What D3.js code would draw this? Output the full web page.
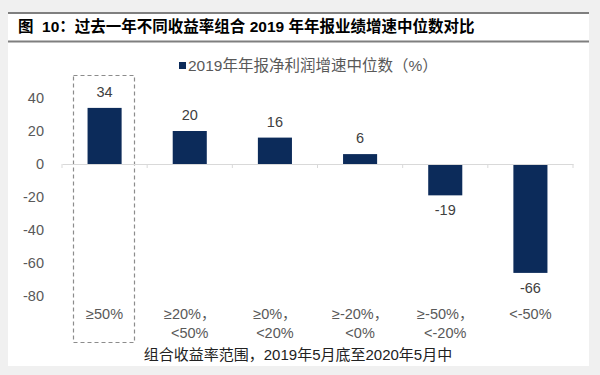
<!DOCTYPE html>
<html>
<head>
<meta charset="utf-8">
<script src="https://cdn.jsdelivr.net/npm/d3@7"></script>
<style>
  body { margin: 0; background: #f0f0f0; }
  svg { display: block; }
  text { font-family: "Liberation Sans", Arial, "Noto Sans CJK SC", sans-serif; }
</style>
</head>
<body>
<div id="chart"></div>
<script>
// chart data
var categories = ["≥50%", "≥20%，<50%", "≥0%，<20%", "≥-20%，<0%", "≥-50%，<-20%", "<-50%"];
var labelLines = [["≥50%"], ["≥20%，", "<50%"], ["≥0%，", "<20%"], ["≥-20%，", "<0%"], ["≥-50%，", "<-20%"], ["<-50%"]];
var growth = [34, 20, 16, 6, -19, -66];
var yTicks = [40, 20, 0, -20, -40, -60, -80];

var titleText = "图  10：过去一年不同收益率组合 2019 年年报业绩增速中位数对比";
var seriesName = "2019年年报净利润增速中位数（%）";
var xTitle = "组合收益率范围，2019年5月底至2020年5月中";

var svgWidth = 600;
var svgHeight = 375;

var svg = d3.select("#chart")
  .append("svg")
  .attr("width", svgWidth)
  .attr("height", svgHeight);

// white panel
svg.append("rect")
  .attr("x", 8)
  .attr("y", 12)
  .attr("width", 581)
  .attr("height", 354)
  .attr("fill", "#ffffff");

// title bar lines
svg.append("line")
  .attr("x1", 8).attr("x2", 589)
  .attr("y1", 13).attr("y2", 13)
  .attr("stroke", "#7f7f7f")
  .attr("stroke-width", 2);

svg.append("line")
  .attr("x1", 8).attr("x2", 589)
  .attr("y1", 41.5).attr("y2", 41.5)
  .attr("stroke", "#7f7f7f")
  .attr("stroke-width", 2);

svg.append("text")
  .attr("x", 18)
  .attr("y", 32)
  .attr("font-size", "15.5px")
  .attr("font-weight", "bold")
  .attr("fill", "#000")
  .style("white-space", "pre")
  .text(titleText);

// scales
var xBandScale = d3.scaleBand()
  .domain(categories)
  .range([62, 573])
  .paddingInner(0.6)
  .paddingOuter(0.3);

var yLinearScale = d3.scaleLinear()
  .domain([-80, 40])
  .range([296, 98]);

var y0 = yLinearScale(0);
var step = xBandScale.step();

// highlight box around first category
svg.append("rect")
  .attr("x", Math.round(xBandScale.range()[0] + step * 0.135) + 0.5)
  .attr("y", 75.5)
  .attr("width", Math.round(step * 0.72))
  .attr("height", 267)
  .attr("fill", "none")
  .attr("stroke", "#8c8c8c")
  .attr("stroke-width", 1.2)
  .attr("stroke-dasharray", "4,3");

// legend
svg.append("rect")
  .attr("x", 179)
  .attr("y", 62)
  .attr("width", 7)
  .attr("height", 7)
  .attr("fill", "#0c2b5a");

svg.append("text")
  .attr("x", 188)
  .attr("y", 71)
  .attr("font-size", "15.5px")
  .attr("fill", "#595959")
  .text(seriesName);

// y tick labels (no axis line)
svg.append("g")
  .selectAll("text")
  .data(yTicks)
  .enter()
  .append("text")
  .attr("x", 44)
  .attr("y", d => yLinearScale(d))
  .attr("dy", "0.35em")
  .attr("text-anchor", "end")
  .attr("font-size", "14.5px")
  .attr("fill", "#595959")
  .text(d => d);

// bars
svg.append("g")
  .selectAll("rect")
  .data(growth)
  .enter()
  .append("rect")
  .attr("x", (d, i) => xBandScale(categories[i]))
  .attr("y", d => yLinearScale(Math.max(0, d)))
  .attr("width", xBandScale.bandwidth())
  .attr("height", d => Math.abs(yLinearScale(d) - y0))
  .attr("fill", "#0c2b5a");

// zero axis line with category tick marks
var bottomAxis = d3.axisBottom(xBandScale)
  .tickSize(0)
  .tickFormat("");

var xAxis = svg.append("g")
  .attr("transform", `translate(0, ${y0})`)
  .call(bottomAxis);
xAxis.select(".domain").attr("stroke", "#d9d9d9");

svg.append("g")
  .selectAll("line")
  .data(d3.range(categories.length + 1))
  .enter()
  .append("line")
  .attr("x1", i => xBandScale.range()[0] + i * step)
  .attr("x2", i => xBandScale.range()[0] + i * step)
  .attr("y1", y0)
  .attr("y2", y0 + 4)
  .attr("stroke", "#d9d9d9");

// value labels
svg.append("g")
  .selectAll("text")
  .data(growth)
  .enter()
  .append("text")
  .attr("x", (d, i) => xBandScale(categories[i]) + xBandScale.bandwidth() / 2)
  .attr("y", d => d >= 0 ? yLinearScale(d) - 11 : yLinearScale(d) + 20)
  .attr("text-anchor", "middle")
  .attr("font-size", "14.5px")
  .attr("fill", "#404040")
  .text(d => d);

// category labels
var catGroup = svg.append("g")
  .selectAll("text")
  .data(labelLines)
  .enter()
  .append("text")
  .attr("text-anchor", "middle")
  .attr("font-size", "14.5px")
  .attr("fill", "#595959");

catGroup.selectAll("tspan")
  .data((d, i) => d.map(line => ({ line: line, i: i })))
  .enter()
  .append("tspan")
  .attr("x", d => xBandScale(categories[d.i]) + xBandScale.bandwidth() / 2)
  .attr("y", (d, j) => 319 + j * 19)
  .text(d => d.line);

// x axis title
svg.append("text")
  .attr("x", 298)
  .attr("y", 360)
  .attr("text-anchor", "middle")
  .attr("font-size", "15px")
  .attr("fill", "#222")
  .text(xTitle);
</script>
</body>
</html>
